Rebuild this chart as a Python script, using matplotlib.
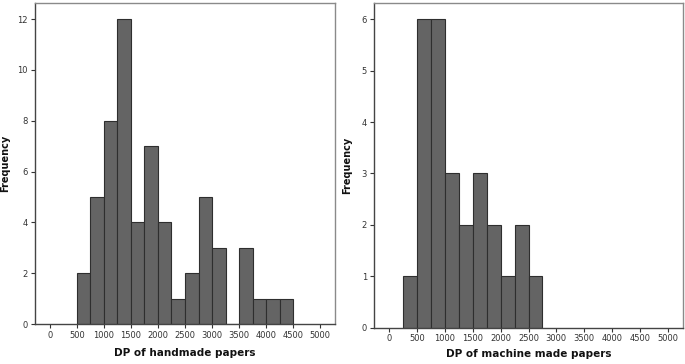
import matplotlib
matplotlib.use("Agg")
import matplotlib.pyplot as plt
import numpy as np

# Data: histogram bins (width 250) and counts
hand_bin_starts = [500, 750, 1000, 1250, 1500, 1750, 2000, 2250, 2500, 2750, 3000, 3250, 3500, 3750, 4000, 4250]
hand_counts = [2, 5, 8, 12, 4, 7, 4, 1, 2, 5, 3, 0, 3, 1, 1, 1]
machine_bin_starts = [250, 500, 750, 1000, 1250, 1500, 1750, 2000, 2250, 2500]
machine_counts = [1, 6, 6, 3, 2, 3, 2, 1, 2, 1]
bin_width = 250
x_ticks = [0, 500, 1000, 1500, 2000, 2500, 3000, 3500, 4000, 4500, 5000]
hand_yticks = [0, 2, 4, 6, 8, 10, 12]
machine_yticks = [0, 1, 2, 3, 4, 5, 6]

W, H = 685, 364
fig = plt.figure(figsize=(W / 100, H / 100), dpi=100)

def px_axes(x0, y0, x1, y1):
    return fig.add_axes([x0 / W, (H - y1) / H, (x1 - x0) / W, (y1 - y0) / H])

ax1 = px_axes(35, 3, 335, 324)
ax2 = px_axes(374, 3, 683, 327.5)

bar_face = "#646464"
bar_edge = "#2e2e2e"

def style(ax, starts, counts, yticks, ylim, xlabel, ylab_x, lpad):
    ax.bar(starts, counts, width=bin_width, align="edge",
           color=bar_face, edgecolor=bar_edge, linewidth=0.8)
    ax.set_xlim(-275, 5275)
    ax.set_ylim(0, ylim)
    ax.set_xticks(x_ticks)
    ax.set_xticklabels([str(t) for t in x_ticks])
    ax.set_yticks(yticks)
    ax.tick_params(axis="both", direction="out", length=3, width=0.8,
                   labelsize=6, colors="#333333", pad=2)
    for s in ["top", "right"]:
        ax.spines[s].set_color("#8a8a8a")
        ax.spines[s].set_linewidth(1.0)
    for s in ["left", "bottom"]:
        ax.spines[s].set_color("#444444")
        ax.spines[s].set_linewidth(1.0)
    ax.set_xlabel(xlabel, fontsize=7.5, fontweight="bold", labelpad=lpad, color="#111111")
    ax.set_ylabel("Frequency", fontsize=7, fontweight="bold", color="#111111")
    ax.yaxis.set_label_coords(ylab_x, 0.5)

style(ax1, hand_bin_starts, hand_counts, hand_yticks, 12.63, "DP of handmade papers", -0.082, 6)
style(ax2, machine_bin_starts, machine_counts, machine_yticks, 6.32, "DP of machine made papers", -0.07, 4)

fig.savefig("out.png", dpi=100)
